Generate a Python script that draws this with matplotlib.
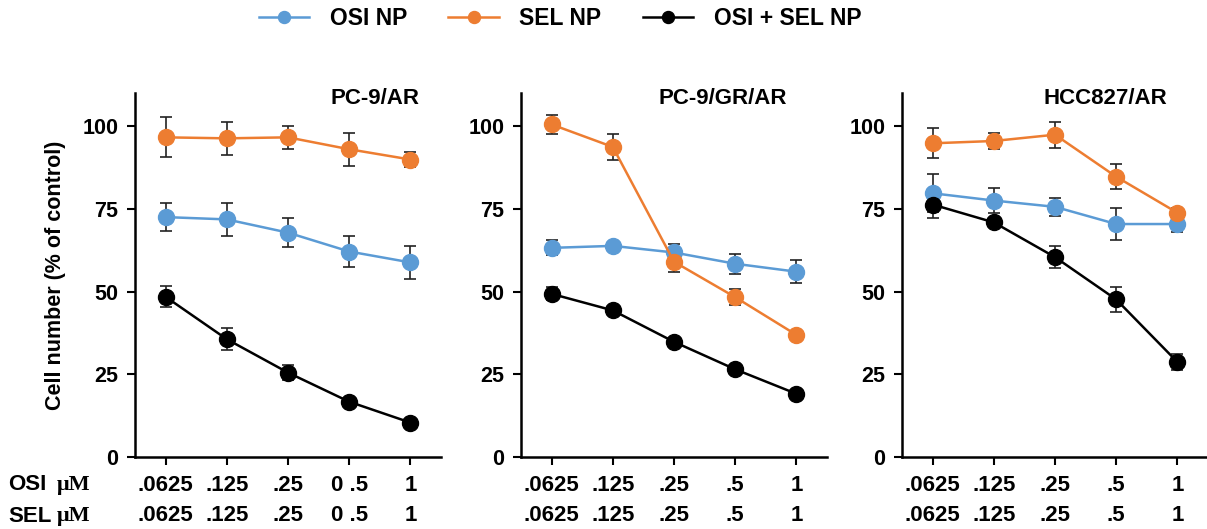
import matplotlib
matplotlib.use("Agg")
import matplotlib.pyplot as plt

plt.rcParams['font.family'] = ['Liberation Sans', 'DejaVu Sans']
plt.rcParams['font.weight'] = 'bold'

# Cell lines and dose labels (OSI row / SEL row)
cell_lines = ["PC-9/AR", "PC-9/GR/AR", "HCC827/AR"]
osi_doses = [[".0625", ".125", ".25", "0 .5", "1"],
             [".0625", ".125", ".25", ".5", "1"],
             [".0625", ".125", ".25", ".5", "1"]]
sel_doses = [[".0625", ".125", ".25", "0 .5", "1"],
             [".0625", ".125", ".25", ".5", "1"],
             [".0625", ".125", ".25", ".5", "1"]]

# Cell number (% of control), mean and error per panel
osi_mean = [[72.5, 71.8, 67.8, 62.1, 58.8],
            [63.2, 63.8, 61.8, 58.4, 56.0],
            [79.7, 77.5, 75.6, 70.4, 70.4]]
osi_err = [[4.2, 4.9, 4.4, 4.7, 5.1],
           [2.3, 1.0, 2.7, 3.0, 3.5],
           [5.7, 3.7, 2.8, 4.7, 2.5]]
sel_mean = [[96.6, 96.3, 96.6, 93.0, 89.9],
            [100.5, 93.7, 59.0, 48.3, 36.9],
            [94.8, 95.5, 97.4, 84.7, 73.8]]
sel_err = [[6.0, 5.0, 3.5, 5.0, 2.3],
           [3.0, 4.0, 3.2, 2.4, 1.0],
           [4.5, 2.3, 3.9, 3.7, 1.5]]
combo_mean = [[48.4, 35.6, 25.5, 16.7, 10.4],
              [49.3, 44.3, 34.8, 26.5, 19.1],
              [76.3, 70.9, 60.4, 47.6, 28.7]]
combo_err = [[3.2, 3.3, 2.2, 1.0, 0.6],
             [2.0, 1.0, 1.2, 0.8, 0.6],
             [4.0, 1.2, 3.4, 3.7, 2.3]]

BLUE = "#5B9BD5"
ORANGE = "#ED7D31"
BLACK = "#000000"

fig = plt.figure(figsize=(12.07, 5.29), dpi=100)

lefts = [135, 521, 902]
title_x = [0.784, 0.66, 0.663]
series = [("OSI NP", osi_mean, osi_err, BLUE),
          ("SEL NP", sel_mean, sel_err, ORANGE),
          ("OSI + SEL NP", combo_mean, combo_err, BLACK)]

handles = []
for i, name in enumerate(cell_lines):
    ax = fig.add_axes([lefts[i] / 1207, 72 / 529, 306 / 1207, 364 / 529])
    x = list(range(5))
    handles = []
    for label, mean, err, color in series:
        ax.errorbar(x, mean[i], yerr=err[i], fmt='none', ecolor='#222222',
                    elinewidth=1.2, capsize=4, capthick=1.2, zorder=2)
        h, = ax.plot(x, mean[i], color=color, lw=1.8, marker='o', ms=11.5,
                     label=label, zorder=3)
        handles.append(h)
    ax.set_xlim(-0.5, 4.5)
    ax.set_ylim(0, 110)
    ax.set_yticks([0, 25, 50, 75, 100])
    ax.set_xticks(x, labels=[f"{o}\n{s}" for o, s in zip(osi_doses[i], sel_doses[i])])
    ax.tick_params(axis='x', length=6, width=1.5, labelsize=16, pad=7)
    ax.tick_params(axis='y', length=6, width=1.5, labelsize=15.5, pad=6)
    for lab in ax.get_xticklabels():
        lab.set_linespacing(1.55)
    for s in ("top", "right"):
        ax.spines[s].set_visible(False)
    for s in ("left", "bottom"):
        ax.spines[s].set_linewidth(1.8)
    ax.text(title_x[i], 1.014, name, transform=ax.transAxes, ha='center', va='top',
            fontsize=16, fontweight='bold')
    if i == 0:
        ax.set_ylabel("Cell number (% of control)", fontsize=15.5, fontweight='bold',
                      labelpad=12)

# Row captions for the dose rows
for yy, drug in [(485, "OSI"), (516, "SEL")]:
    fig.text(8 / 1207, 1 - yy / 529, drug, ha='left', va='center', fontsize=16,
             fontweight='bold')
    fig.text(57 / 1207, 1 - yy / 529, "\u03bcM", ha='left', va='center', fontsize=16,
             fontweight='bold', family='Liberation Serif')

fig.legend(handles=handles, loc='center', bbox_to_anchor=(560 / 1207, 1 - 19 / 529),
           ncol=3, frameon=False, markerscale=0.75,
           handlelength=2.2, columnspacing=1.8, handletextpad=0.9,
           prop={'weight': 'bold', 'size': 16.5})

fig.savefig("out.png", dpi=100)
